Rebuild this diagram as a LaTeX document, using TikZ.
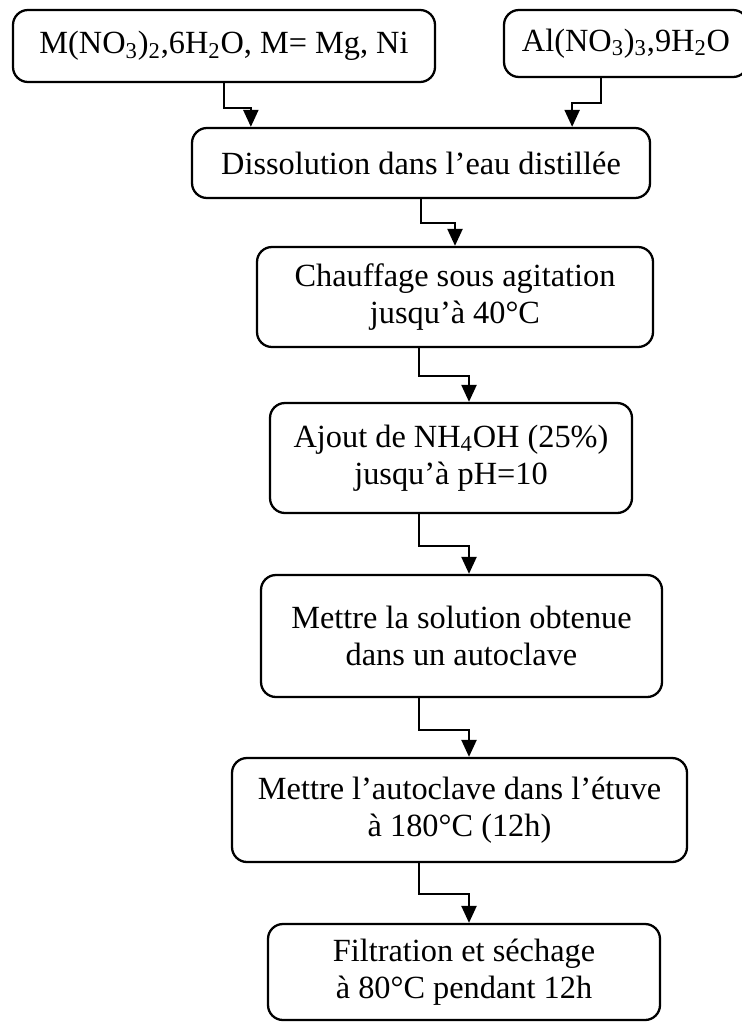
\documentclass[tikz,border=0pt]{standalone}
\usepackage{fontspec}
\setmainfont{Liberation Serif}
\usetikzlibrary{arrows.meta}

\begin{document}
\begin{tikzpicture}[
	box/.style={draw, line width=1.3pt, rounded corners=0.3cm, align=center, inner sep=0pt, font=\fontsize{18.4}{21}\selectfont},
	flow/.style={line width=1.3pt, -{Triangle[width=0.3cm, length=0.34cm]}}
]
	\useasboundingbox (0,0) rectangle (14.84,-20.44);
	\coordinate (lft) at (8.38,0);
	\coordinate (rgt) at (9.38,0);
	
	% Draw the starting salts
	\node[box, minimum width=8.44cm, minimum height=1.44cm] (mgni) at (4.48,-0.92) {M(NO\textsubscript{3})\textsubscript{2},6H\textsubscript{2}O, M= Mg, Ni};
	\node[box, minimum width=4.88cm, minimum height=1.34cm] (alu) at (12.52,-0.87) {Al(NO\textsubscript{3})\textsubscript{3},9H\textsubscript{2}O};
	
	% Draw the steps
	\node[box, minimum width=9.16cm, minimum height=1.40cm] (dissol) at (8.42,-3.26) {Dissolution dans l’eau distillée};
	\node[box, minimum width=7.92cm, minimum height=2.00cm] (chauf) at (9.10,-5.94) {Chauffage sous agitation\\ jusqu’à 40°C};
	\node[box, minimum width=7.24cm, minimum height=2.20cm] (ajout) at (9.02,-9.16) {Ajout de NH\textsubscript{4}OH (25\%)\\ jusqu’à pH=10};
	\node[box, minimum width=8.02cm, minimum height=2.44cm] (sol) at (9.23,-12.72) {Mettre la solution obtenue\\ dans un autoclave};
	\node[box, minimum width=9.10cm, minimum height=2.08cm] (etuve) at (9.19,-16.20) {Mettre l’autoclave dans l’étuve\\ à 180°C (12h)};
	\node[box, minimum width=7.84cm, minimum height=1.92cm] (filt) at (9.28,-19.44) {Filtration et séchage\\ à 80°C pendant 12h};
	
	% Draw the arrows
	\draw[flow] (mgni.south) -- ++(0,-0.5) -| ([xshift=1.2cm]dissol.north west);
	\draw[flow] ([xshift=1.96cm]alu.south west) -- ++(0,-0.5) -| ([xshift=-1.58cm]dissol.north east);
	\draw[flow] (dissol.south) -- ++(0,-0.48) -| (chauf.north);
	\draw[flow] (chauf.south -| lft) -- ++(0,-0.56) -| (ajout.north -| rgt);
	\draw[flow] (ajout.south -| lft) -- ++(0,-0.64) -| (sol.north -| rgt);
	\draw[flow] (sol.south -| lft) -- ++(0,-0.64) -| (etuve.north -| rgt);
	\draw[flow] (etuve.south -| lft) -- ++(0,-0.62) -| (filt.north -| rgt);
\end{tikzpicture}
\end{document}
